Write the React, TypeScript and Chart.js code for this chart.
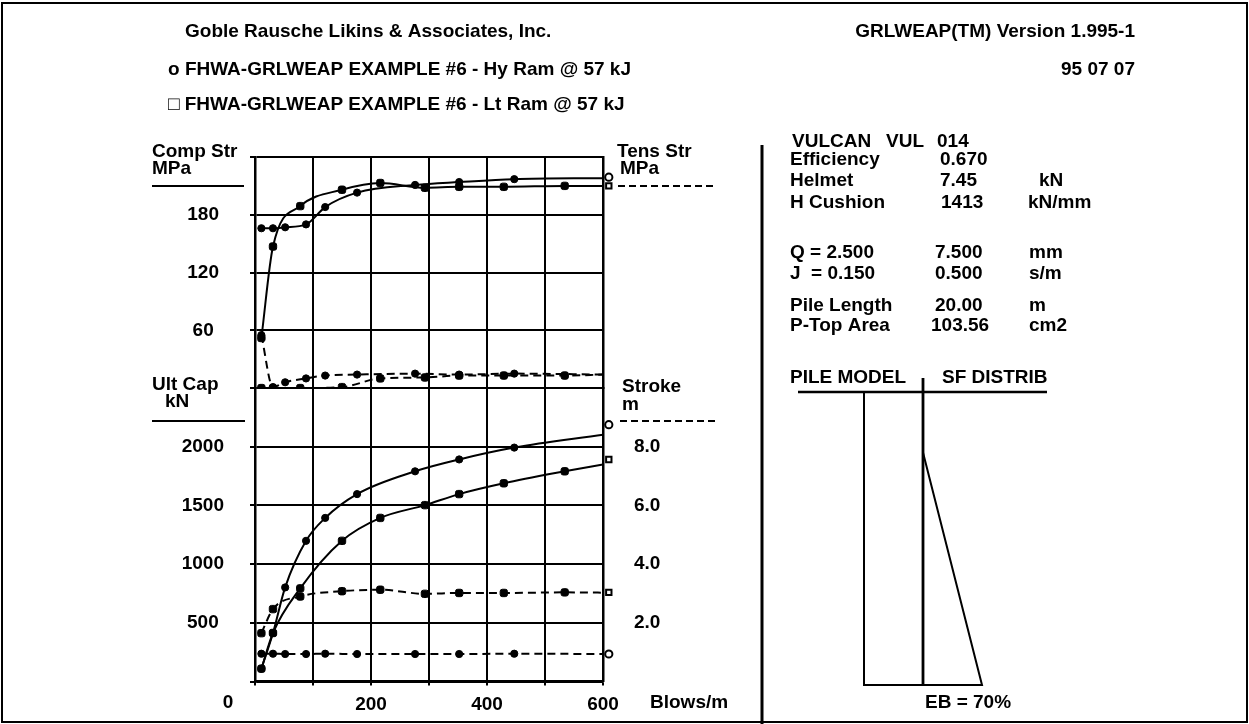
import React, { useEffect, useRef } from "react";
import { Chart, registerables } from "chart.js";

Chart.register(...registerables);

// ---------------- data ----------------
// Hy Ram (o) and Lt Ram (□) analysis points, blows per metre
const blowsHy = [11, 31, 52, 88, 121, 176, 276, 352, 447, 600];
const blowsLt = [11, 31, 78, 150, 216, 293, 352, 429, 534, 600];
// compressive / tensile stress, MPa
const compStrHy = [166, 166, 167, 170, 188, 203, 211, 214, 217, 218];
const compStrLt = [52, 147, 189, 206, 213, 208, 209, 209, 210, 210];
const tensStrHy = [55, 1, 6, 10, 13, 14, 15, 14, 15, 14];
const tensStrLt = [0, 0, 0, 1, 10, 11, 13, 13, 13, 14];
// ultimate capacity, kN
const ultCapHy = [110, 414, 802, 1199, 1394, 1597, 1791, 1892, 1993, 2103];
const ultCapLt = [110, 414, 794, 1199, 1394, 1503, 1597, 1689, 1791, 1850];
// stroke, m
const strokeHy = [0.95, 0.95, 0.94, 0.94, 0.95, 0.94, 0.94, 0.94, 0.95, 0.94];
const strokeLt = [1.65, 2.47, 2.9, 3.08, 3.13, 2.99, 3.02, 3.02, 3.04, 3.03];
// end-of-range symbols
const markerBlows = 610;
const markerHyComp = 219;
const markerLtComp = 210;
const markerHyCap = 2188;
const markerLtCap = 1892;
const markerHyStroke = 0.94;
const markerLtStroke = 3.04;

// tick labels
const blowsTickLabels = [200, 400, 600];
const compTickLabels = [60, 120, 180];
const capTickLabels = [500, 1000, 1500, 2000];
const strokeTickLabels = [2, 4, 6, 8];

// pile model / shaft friction distribution (depth in m)
const pileLength = 20;
const pileOutlineX = [-1, -1, 0];
const pileOutlineY = [0, 20, 20];
const pileAxisX = [0, 0];
const pileAxisY = [-1, 20];
const sfDistX = [0, 1, 0];
const sfDistY = [4.1, 20, 20];

const FAMILY = '"Liberation Sans", Arial, Helvetica, sans-serif';
const FS = 19;
const FONT = `bold ${FS}px ${FAMILY}`;

const pts = (xs: number[], ys: number[]) => xs.map((x, i) => ({ x, y: ys[i] }));

const lastHidden = (r: number) => (ctx: any) =>
  ctx.dataIndex === ctx.dataset.data.length - 1 ? 0 : r;

function series(xs: number[], ys: number[], axis: string, dashed: boolean, lt: boolean) {
  return {
    data: pts(xs, ys),
    yAxisID: axis,
    borderColor: "#000",
    borderWidth: 2,
    borderDash: dashed ? [8, 5] : [],
    cubicInterpolationMode: "monotone" as const,
    pointRadius: lastHidden(lt ? 4.3 : 3.6),
    pointStyle: lt ? "rectRounded" : "circle",
    pointBackgroundColor: "#000",
    pointBorderColor: "#000",
    pointBorderWidth: 1,
    fill: false,
  };
}

function marker(y: number, axis: string, lt: boolean) {
  return {
    data: [{ x: markerBlows, y }],
    yAxisID: axis,
    showLine: false,
    clip: false,
    pointRadius: lt ? 3.8 : 3.6,
    pointStyle: lt ? "rect" : "circle",
    pointBackgroundColor: "#fff",
    pointBorderColor: "#000",
    pointBorderWidth: 2,
  };
}

const pageTexts: [string, number, number, CanvasTextAlign][] = [
  ["Goble Rausche Likins & Associates, Inc.", 185, 32, "left"],
  ["o FHWA-GRLWEAP EXAMPLE #6 - Hy Ram @ 57 kJ", 168, 70, "left"],
  ["\u25A1 FHWA-GRLWEAP EXAMPLE #6 - Lt Ram @ 57 kJ", 168, 105, "left"],
  ["GRLWEAP(TM) Version 1.995-1", 1135, 32, "right"],
  ["95 07 07", 1135, 70, "right"],
  ["Comp Str", 152, 152, "left"],
  ["MPa", 152, 169, "left"],
  ["Ult Cap", 152, 385, "left"],
  ["kN", 165, 402, "left"],
  ["Tens Str", 617, 152, "left"],
  ["MPa", 620, 169, "left"],
  ["Stroke", 622, 387, "left"],
  ["m", 622, 405, "left"],
  ["0", 228, 703, "center"],
  ["Blows/m", 650, 703, "left"],
  ["VULCAN", 792, 142, "left"],
  ["VUL", 886, 142, "left"],
  ["014", 937, 142, "left"],
  ["Efficiency", 790, 160, "left"],
  ["0.670", 940, 160, "left"],
  ["Helmet", 790, 181, "left"],
  ["7.45", 940, 181, "left"],
  ["kN", 1039, 181, "left"],
  ["H Cushion", 790, 203, "left"],
  ["1413", 941, 203, "left"],
  ["kN/mm", 1028, 203, "left"],
  ["Q = 2.500", 790, 253, "left"],
  ["7.500", 935, 253, "left"],
  ["mm", 1029, 253, "left"],
  ["J  = 0.150", 790, 274, "left"],
  ["0.500", 935, 274, "left"],
  ["s/m", 1029, 274, "left"],
  ["Pile Length", 790, 306, "left"],
  ["20.00", 935, 306, "left"],
  ["m", 1029, 306, "left"],
  ["P-Top Area", 790, 326, "left"],
  ["103.56", 931, 326, "left"],
  ["cm2", 1029, 326, "left"],
  ["PILE MODEL", 790, 378, "left"],
  ["SF DISTRIB", 942, 378, "left"],
  ["EB = 70%", 925, 703, "left"],
];

const decoPlugin = {
  id: "grlDeco",
  afterDraw(chart: any) {
    const ctx = chart.ctx as CanvasRenderingContext2D;
    ctx.save();
    ctx.fillStyle = "#000";
    ctx.strokeStyle = "#000";
    ctx.font = FONT;
    ctx.textBaseline = "middle";
    for (const [t, x, y, a] of pageTexts) {
      ctx.textAlign = a;
      ctx.fillText(t, x, y);
    }
    const line = (x1: number, y1: number, x2: number, y2: number, w: number, dash: number[] = []) => {
      ctx.beginPath();
      ctx.setLineDash(dash);
      ctx.lineWidth = w;
      ctx.moveTo(x1, y1);
      ctx.lineTo(x2, y2);
      ctx.stroke();
    };
    line(152, 186, 244, 186, 2);
    line(152, 421, 245, 421, 2);
    line(618, 186, 715, 186, 2, [7, 4]);
    line(620, 421, 717, 421, 2, [7, 4]);
    line(762, 145, 762, 724, 3);
    line(798, 392, 1047, 392, 2.5);
    ctx.restore();
  },
};

const tickCb = (list: number[], fmt?: (v: number) => string) => (v: any) =>
  list.includes(Number(v)) ? (fmt ? fmt(Number(v)) : String(v)) : "";

export default function App() {
  const mainRef = useRef<HTMLCanvasElement>(null);
  const pileRef = useRef<HTMLCanvasElement>(null);

  useEffect(() => {
    Chart.defaults.font.family = FAMILY;
    Chart.defaults.font.size = FS;
    Chart.defaults.font.weight = "bold";
    Chart.defaults.color = "#000";

    const gridY = { color: "#000", lineWidth: 2, tickLength: 5 };
    const main = new Chart(mainRef.current!, {
      type: "line",
      data: {
        datasets: [
          series(blowsHy, compStrHy, "yComp", false, false),
          series(blowsLt, compStrLt, "yComp", false, true),
          series(blowsHy, tensStrHy, "yTens", true, false),
          series(blowsLt, tensStrLt, "yTens", true, true),
          series(blowsHy, ultCapHy, "yCap", false, false),
          series(blowsLt, ultCapLt, "yCap", false, true),
          series(blowsHy, strokeHy, "yStroke", true, false),
          series(blowsLt, strokeLt, "yStroke", true, true),
          marker(markerHyComp, "yComp", false),
          marker(markerLtComp, "yComp", true),
          marker(markerHyCap, "yCap", false),
          marker(markerLtCap, "yCap", true),
          marker(markerHyStroke, "yStroke", false),
          marker(markerLtStroke, "yStroke", true),
        ] as any,
      },
      options: {
        responsive: false,
        animation: false,
        devicePixelRatio: 1,
        layout: { padding: { left: 140, right: 546, top: 157, bottom: 8 } },
        plugins: { legend: { display: false }, tooltip: { enabled: false } },
        scales: {
          x: {
            type: "linear",
            min: 0,
            max: 600,
            ticks: { stepSize: 100, callback: tickCb(blowsTickLabels), padding: 8, maxRotation: 0, autoSkip: false },
            grid: { color: "#000", lineWidth: 2, tickLength: 4 },
            border: { color: "#000", width: 2.5 },
            afterFit: (s: any) => { s.height = 30; },
          },
          yCap: {
            type: "linear",
            position: "left",
            stack: "left",
            stackWeight: 296,
            min: 0,
            max: 2500,
            ticks: { stepSize: 500, callback: tickCb(capTickLabels), crossAlign: "center", padding: 26 },
            grid: gridY,
            border: { color: "#000", width: 2.5 },
            afterFit: (s: any) => { s.width = 115; },
          },
          yComp: {
            type: "linear",
            position: "left",
            stack: "left",
            stackWeight: 233,
            min: 0,
            max: 240,
            ticks: { stepSize: 60, callback: tickCb(compTickLabels), crossAlign: "center", padding: 31 },
            grid: gridY,
            border: { color: "#000", width: 2.5 },
            afterFit: (s: any) => { s.width = 115; },
          },
          yTens: {
            type: "linear",
            position: "right",
            stack: "right",
            stackWeight: 233,
            min: 0,
            max: 240,
            ticks: { display: false },
            grid: { display: false, drawTicks: false },
            border: { color: "#000", width: 2.5 },
            afterFit: (s: any) => { s.width = 100; },
          },
          yStroke: {
            type: "linear",
            position: "right",
            stack: "right",
            stackWeight: 296,
            min: 0,
            max: 10,
            ticks: { stepSize: 2, callback: tickCb(strokeTickLabels, (v) => v.toFixed(1)), padding: 31 },
            grid: { display: false, drawTicks: false },
            border: { color: "#000", width: 2.5 },
            afterFit: (s: any) => { s.width = 100; },
          },
        } as any,
      },
      plugins: [decoPlugin],
    });

    const pileLine = (xs: number[], ys: number[], w: number) => ({
      data: pts(xs, ys),
      borderColor: "#000",
      borderWidth: w,
      pointRadius: 0,
      showLine: true,
      clip: false,
      tension: 0,
    });
    const pile = new Chart(pileRef.current!, {
      type: "scatter",
      data: {
        datasets: [
          pileLine(pileOutlineX, pileOutlineY, 2),
          pileLine(pileAxisX, pileAxisY, 2.8),
          pileLine(sfDistX, sfDistY, 2),
        ] as any,
      },
      options: {
        responsive: false,
        animation: false,
        devicePixelRatio: 1,
        layout: { padding: { left: 10, right: 10, top: 10, bottom: 11 } },
        plugins: { legend: { display: false }, tooltip: { enabled: false } },
        scales: {
          x: { type: "linear", min: -1, max: 1, display: false },
          y: { type: "linear", min: -1, max: pileLength, reverse: true, display: false },
        },
      },
    });

    return () => {
      main.destroy();
      pile.destroy();
    };
  }, []);

  return (
    <div style={{ position: "absolute", left: 0, top: 0, width: 1249, height: 724, background: "#fff" }}>
      <canvas ref={mainRef} width={1249} height={724} style={{ position: "absolute", left: 0, top: 0 }} />
      <canvas ref={pileRef} width={138} height={328} style={{ position: "absolute", left: 854, top: 368 }} />
      <div
        style={{
          position: "absolute",
          left: 1,
          top: 2,
          width: 1247,
          height: 721,
          border: "2px solid #000",
          boxSizing: "border-box",
          pointerEvents: "none",
        }}
      />
    </div>
  );
}
